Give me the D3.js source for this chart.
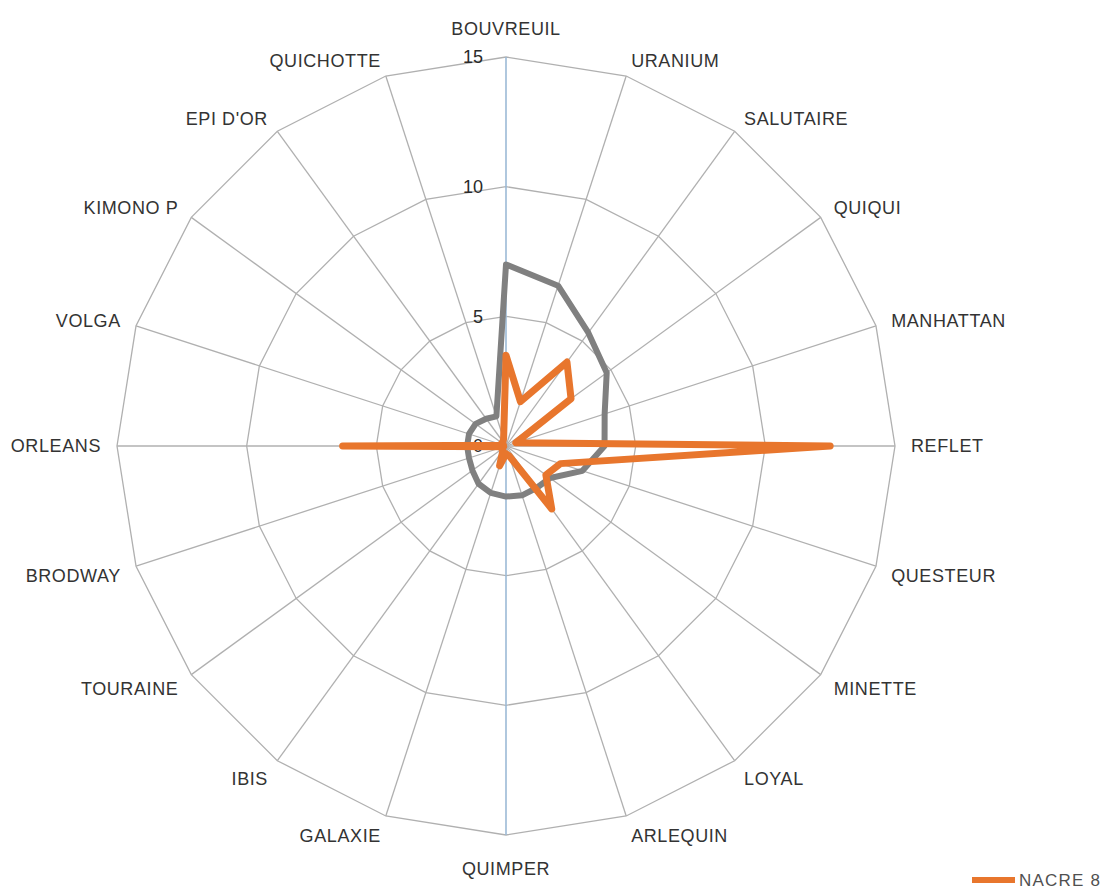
<!DOCTYPE html>
<html>
<head>
<meta charset="utf-8">
<script src="https://cdn.jsdelivr.net/npm/d3@7"></script>
<style>
  html, body { margin: 0; padding: 0; background: #ffffff; }
  svg { display: block; }
  text { font-family: "Liberation Sans", Arial, sans-serif; fill: #333333; }
</style>
</head>
<body>
<svg id="chart" width="1114" height="889"></svg>
<script>
const categories = ["BOUVREUIL","URANIUM","SALUTAIRE","QUIQUI","MANHATTAN","REFLET","QUESTEUR","MINETTE","LOYAL","ARLEQUIN","QUIMPER","GALAXIE","IBIS","TOURAINE","BRODWAY","ORLEANS","VOLGA","KIMONO P","EPI D'OR","QUICHOTTE"];
const greySeries = [7.0, 6.5, 5.4, 4.8, 4.0, 3.8, 3.1, 2.1, 2.0, 2.0, 1.95, 1.9, 1.8, 1.6, 1.5, 1.5, 1.5, 1.45, 1.3, 1.2];
const nacre8 = [3.5, 1.8, 4.0, 3.1, 0.4, 12.5, 2.2, 1.9, 3.0, 0.4, 0.3, 0.8, 0.2, 0.2, 0.1, 6.3, 0.1, 0.2, 0.2, 0.3];
const tickValues = [0, 5, 10, 15];
const legendLabel = "NACRE 8";

const svg = d3.select("#chart");
const cx = 506, cy = 446, R = 389;
const r = d3.scaleLinear().domain([0, 15]).range([0, R]);
const angle = d3.scaleLinear().domain([0, categories.length]).range([0, 2 * Math.PI]);

const g = svg.append("g").attr("transform", `translate(${cx},${cy})`);

// grid rings (polygons)
const ringLine = d3.lineRadial().angle((d, i) => angle(i)).radius(d => r(d)).curve(d3.curveLinearClosed);
tickValues.filter(t => t > 0).forEach(t => {
  g.append("path")
    .attr("d", ringLine(categories.map(() => t)))
    .attr("fill", "none")
    .attr("stroke", "#b0b0b0")
    .attr("stroke-width", 1.3);
});

// spokes
categories.forEach((c, i) => {
  const a = angle(i);
  const vertical = (i === 0 || i === categories.length / 2);
  g.append("line")
    .attr("x1", 0).attr("y1", 0)
    .attr("x2", Math.sin(a) * r(15))
    .attr("y2", -Math.cos(a) * r(15))
    .attr("stroke", vertical ? "#9cbad6" : "#b0b0b0")
    .attr("stroke-width", vertical ? 1.6 : 1.3);
});

// tick labels
tickValues.forEach(t => {
  g.append("text")
    .attr("x", -23)
    .attr("y", -r(t))
    .attr("dy", "0.35em")
    .attr("text-anchor", "end")
    .style("font-size", "18px")
    .style("fill", "#2a2a2a")
    .text(t);
});

// category labels
categories.forEach((c, i) => {
  const a = angle(i);
  const s = Math.sin(a), co = Math.cos(a);
  const rr = r(15) + 16;
  let x = s * rr, y = -co * rr;
  let anchor = "middle";
  if (s > 0.1) anchor = "start";
  else if (s < -0.1) anchor = "end";
  if (Math.abs(s) < 0.1) {
    if (co > 0) { y -= 12; } else { y += 18; }
  } else if (co < -0.1) {
    y += 5;
  }
  g.append("text")
    .attr("x", x).attr("y", y)
    .attr("dy", "0.35em")
    .attr("text-anchor", anchor)
    .style("font-size", "18px")
    .style("letter-spacing", "0.6px")
    .text(c);
});

// series
const seriesLine = d3.lineRadial().angle((d, i) => angle(i)).radius(d => r(d)).curve(d3.curveLinearClosed);
g.append("path")
  .attr("d", seriesLine(greySeries))
  .attr("fill", "none")
  .attr("stroke", "#808080")
  .attr("stroke-width", 6)
  .attr("stroke-linejoin", "round");
g.append("path")
  .attr("d", seriesLine(nacre8))
  .attr("fill", "none")
  .attr("stroke", "#e8762d")
  .attr("stroke-width", 7)
  .attr("stroke-linejoin", "round");

// legend
const lg = svg.append("g").attr("transform", "translate(972,880)");
lg.append("line").attr("x1", 0).attr("x2", 43).attr("y1", 0).attr("y2", 0)
  .attr("stroke", "#e8762d").attr("stroke-width", 6);
lg.append("text").attr("x", 47).attr("y", 0).attr("dy", "0.35em")
  .style("font-size", "17px").style("letter-spacing", "1.2px").style("fill", "#505050")
  .text(legendLabel);
</script>
</body>
</html>
